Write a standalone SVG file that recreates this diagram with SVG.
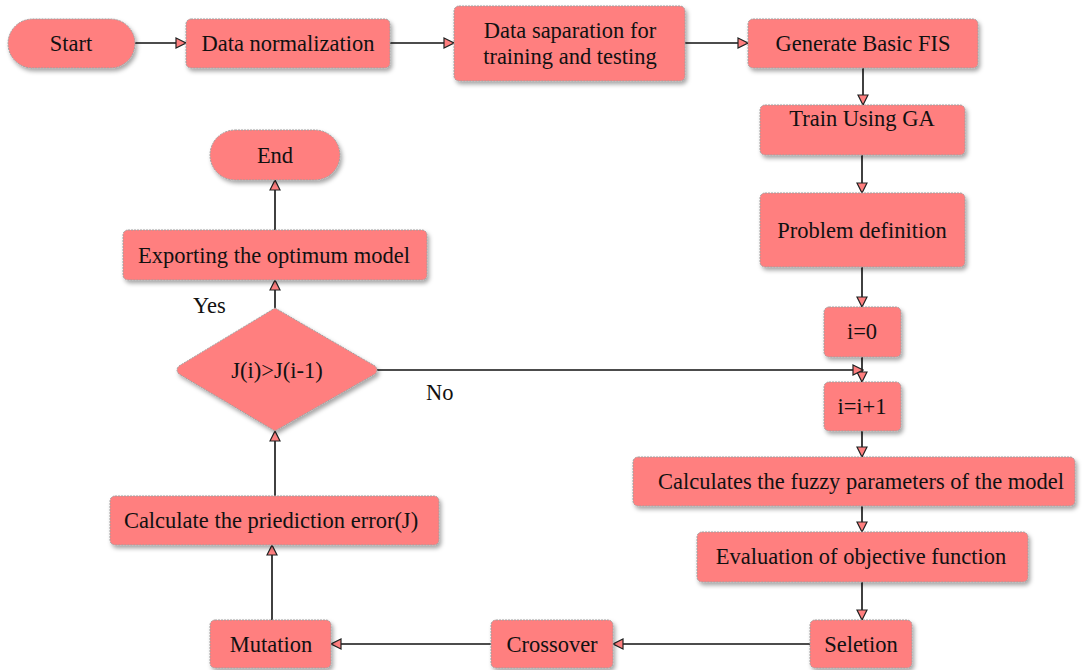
<svg xmlns="http://www.w3.org/2000/svg" width="1088" height="670" viewBox="0 0 1088 670">
<defs>
<filter id="sh" x="-10%" y="-10%" width="130%" height="140%">
<feDropShadow dx="2" dy="3" stdDeviation="2" flood-color="#000" flood-opacity="0.35"/>
</filter>
<marker id="ar" viewBox="0 0 12 12" refX="11" refY="6" markerWidth="12" markerHeight="12" markerUnits="userSpaceOnUse" orient="auto">
<path d="M1,1 L11,6 L1,11 Z" fill="#ff7f7f" stroke="#222" stroke-width="1.2"/>
</marker>
</defs>
<style>
.n{fill:#ff7f7f;stroke:#a0a0a0;stroke-width:1;stroke-dasharray:2 1;filter:url(#sh)}
.t{font-family:"Liberation Serif","Times New Roman",serif;font-size:22.5px;fill:#111;text-anchor:middle;dominant-baseline:central}
.c{fill:none;stroke:#111;stroke-width:1.6;marker-end:url(#ar)}
.l{font-family:"Liberation Serif","Times New Roman",serif;font-size:22.5px;fill:#111}
</style>
<rect width="1088" height="670" fill="#fff"/>
<g id="connectors">
<path class="c" d="M135,43 H186"/>
<path class="c" d="M390,43 H454"/>
<path class="c" d="M685,43 H748"/>
<path class="c" d="M863,68 V105"/>
<path class="c" d="M862,155 V193"/>
<path class="c" d="M862,267 V307"/>
<path class="c" d="M862,357 V382"/>
<path class="c" d="M377,370 H863"/>
<path class="c" d="M862,431 V457"/>
<path class="c" d="M862,506 V532"/>
<path class="c" d="M862,582 V620"/>
<path class="c" d="M810,644 H613"/>
<path class="c" d="M491,644 H331"/>
<path class="c" d="M272,620 V545"/>
<path class="c" d="M275,496 V431"/>
<path class="c" d="M275,308 V280"/>
<path class="c" d="M275,230 V180"/>
</g>
<g id="start"><rect class="n" x="8" y="19" width="127" height="49" rx="24.5"/><text class="t" x="71" y="43">Start</text></g>
<g id="norm"><rect class="n" x="186" y="19" width="204" height="49" rx="5"/><text class="t" x="288" y="43">Data normalization</text></g>
<g id="sep"><rect class="n" x="454" y="6" width="231" height="75" rx="5"/><text class="t" x="570" y="30">Data saparation for</text><text class="t" x="570" y="56">training and testing</text></g>
<g id="fis"><rect class="n" x="748" y="19" width="230" height="49" rx="5"/><text class="t" x="863" y="43">Generate Basic FIS</text></g>
<g id="train"><rect class="n" x="760" y="105" width="205" height="50" rx="5"/><text class="t" x="862" y="118">Train Using GA</text></g>
<g id="prob"><rect class="n" x="760" y="193" width="205" height="74" rx="5"/><text class="t" x="862" y="230">Problem definition</text></g>
<g id="i0"><rect class="n" x="824" y="307" width="77" height="50" rx="5"/><text class="t" x="862" y="331">i=0</text></g>
<g id="i1"><rect class="n" x="824" y="382" width="77" height="49" rx="5"/><text class="t" x="862" y="406">i=i+1</text></g>
<g id="calc"><rect class="n" x="633" y="457" width="442" height="49" rx="5"/><text class="t" x="861" y="481">Calculates the fuzzy parameters of the model</text></g>
<g id="eval"><rect class="n" x="697" y="532" width="331" height="50" rx="5"/><text class="t" x="861" y="556">Evaluation of objective function</text></g>
<g id="sel"><rect class="n" x="810" y="620" width="102" height="48" rx="5"/><text class="t" x="861" y="644">Seletion</text></g>
<g id="cross"><rect class="n" x="491" y="620" width="122" height="48" rx="5"/><text class="t" x="552" y="644">Crossover</text></g>
<g id="mut"><rect class="n" x="210" y="620" width="121" height="48" rx="5"/><text class="t" x="271" y="644">Mutation</text></g>
<g id="err"><rect class="n" x="110" y="496" width="329" height="49" rx="5"/><text class="t" x="271" y="520">Calculate the priediction error(J)</text></g>
<g id="dec"><path class="n" d="M275,308 L375,366 Q379,370 375,374 L275,431 L179,374 Q175,370 179,366 Z"/><text class="t" x="277" y="370">J(i)&gt;J(i-1)</text></g>
<g id="exp"><rect class="n" x="123" y="230" width="304" height="50" rx="5"/><text class="t" x="274" y="255">Exporting the optimum model</text></g>
<g id="end"><rect class="n" x="210" y="130" width="130" height="50" rx="25"/><text class="t" x="275" y="155">End</text></g>
<text class="l" x="193" y="313">Yes</text>
<text class="l" x="426" y="400">No</text>
</svg>
